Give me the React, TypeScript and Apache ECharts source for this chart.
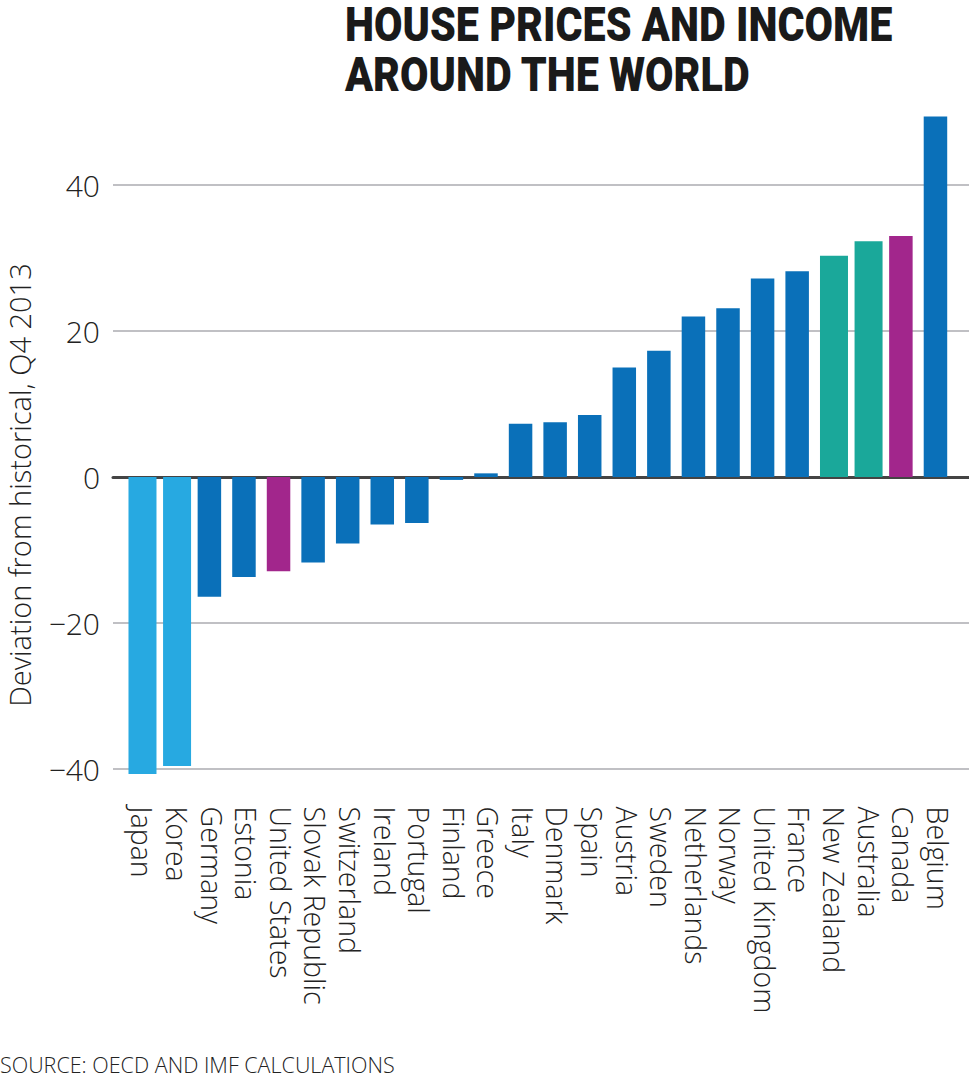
import React, { useEffect, useRef } from "react";
import * as echarts from "echarts";

const countries = [
  "Japan", "Korea", "Germany", "Estonia", "United States", "Slovak Republic",
  "Switzerland", "Ireland", "Portugal", "Finland", "Greece", "Italy", "Denmark",
  "Spain", "Austria", "Sweden", "Netherlands", "Norway", "United Kingdom",
  "France", "New Zealand", "Australia", "Canada", "Belgium",
];
const deviation = [
  -40.7, -39.6, -16.4, -13.7, -12.9, -11.7, -9.1, -6.5, -6.3, -0.4, 0.5, 7.3,
  7.5, 8.5, 15.0, 17.3, 22.0, 23.1, 27.2, 28.2, 30.3, 32.3, 33.0, 49.4,
];
const group = [
  "light", "light", "dark", "dark", "purple", "dark", "dark", "dark", "dark",
  "dark", "dark", "dark", "dark", "dark", "dark", "dark", "dark", "dark", "dark",
  "dark", "teal", "teal", "purple", "dark",
];
const yTicks = [-40, -20, 0, 20, 40];
const titleLines = ["HOUSE PRICES AND INCOME", "AROUND THE WORLD"];

const groupColor: Record<string, string> = {
  light: "#27a9e1",
  dark: "#0a70b9",
  purple: "#a2268c",
  teal: "#1aa89a",
};
const wideGroups = ["light", "teal"];

const FONT = "'Open Sans', Roboto, sans-serif";
const TITLE_FONT = "Roboto, 'Open Sans', sans-serif";

export default function App() {
  const ref = useRef<HTMLDivElement>(null);
  useEffect(() => {
    document.body.style.margin = "0";
    if (!ref.current) return;
    const chart = echarts.init(ref.current, undefined, { renderer: "svg" });

    const narrowData = deviation.map((v, i) =>
      wideGroups.includes(group[i])
        ? "-"
        : { value: v, itemStyle: { color: groupColor[group[i]] } }
    );
    const wideData = deviation.map((v, i) =>
      wideGroups.includes(group[i])
        ? { value: v, itemStyle: { color: groupColor[group[i]] } }
        : "-"
    );

    chart.setOption({
      animation: false,
      backgroundColor: "#ffffff",
      grid: [
        { left: 113, right: 0, top: 185, height: 584 },
        { left: 125.2, right: 14, top: 112, height: 671.6 },
      ],
      xAxis: [
        {
          type: "value",
          gridIndex: 0,
          min: 0,
          max: 1,
          axisLine: { show: true, onZero: true, lineStyle: { color: "#444444", width: 3 } },
          axisTick: { show: false },
          axisLabel: { show: false },
          splitLine: { show: false },
        },
        {
          type: "category",
          gridIndex: 1,
          data: countries,
          axisLine: { show: false },
          axisTick: { show: false },
          axisLabel: {
            rotate: -90,
            margin: 23,
            fontFamily: FONT,
            fontWeight: 300,
            fontSize: 28.5,
            color: "#222222",
            interval: 0,
          },
        },
      ],
      yAxis: [
        {
          type: "value",
          gridIndex: 0,
          min: yTicks[0],
          max: yTicks[yTicks.length - 1],
          interval: 20,
          axisLine: { show: false },
          axisTick: { show: false },
          axisLabel: {
            margin: 13,
            fontFamily: FONT,
            fontWeight: 300,
            fontSize: 30,
            color: "#222222",
            formatter: (v: number) => (v < 0 ? "\u2212" + Math.abs(v) : String(v)),
          },
          splitLine: { show: true, lineStyle: { color: "#c0c0c4", width: 2 } },
        },
        {
          type: "value",
          gridIndex: 1,
          min: -42,
          max: 50,
          show: false,
          splitLine: { show: false },
        },
      ],
      graphic: [
        {
          type: "text",
          x: 345,
          y: 24.5,
          scaleX: 0.843,
          style: {
            text: titleLines[0],
            verticalAlign: "middle",
            fontFamily: TITLE_FONT,
            fontWeight: 900,
            fontSize: 49,
            lineHeight: 44,
            fill: "#1a1a1a",
          },
        },
        {
          type: "text",
          x: 345,
          y: 74.5,
          scaleX: 0.843,
          style: {
            text: titleLines[1],
            verticalAlign: "middle",
            fontFamily: TITLE_FONT,
            fontWeight: 900,
            fontSize: 49,
            lineHeight: 44,
            fill: "#1a1a1a",
          },
        },
        {
          type: "text",
          x: 19,
          y: 485,
          rotation: Math.PI / 2,
          style: {
            text: "Deviation from historical, Q4 2013",
            align: "center",
            verticalAlign: "middle",
            fontFamily: FONT,
            fontWeight: 300,
            fontSize: 29,
            fill: "#222222",
          },
        },
        {
          type: "text",
          x: 0,
          y: 1064.5,
          style: {
            text: "SOURCE: OECD AND IMF CALCULATIONS",
            verticalAlign: "middle",
            fontFamily: FONT,
            fontWeight: 300,
            fontSize: 21.5,
            lineHeight: 20,
            fill: "#222222",
          },
        },
      ],
      series: [
        {
          type: "bar",
          xAxisIndex: 1,
          yAxisIndex: 1,
          barWidth: 23.5,
          barGap: "-100%",
          data: narrowData,
          z: 3,
        },
        {
          type: "bar",
          xAxisIndex: 1,
          yAxisIndex: 1,
          barWidth: 28,
          barGap: "-100%",
          data: wideData,
          z: 3,
        },
      ],
    });
    return () => chart.dispose();
  }, []);
  return <div ref={ref} style={{ width: 969, height: 1076 }} />;
}
